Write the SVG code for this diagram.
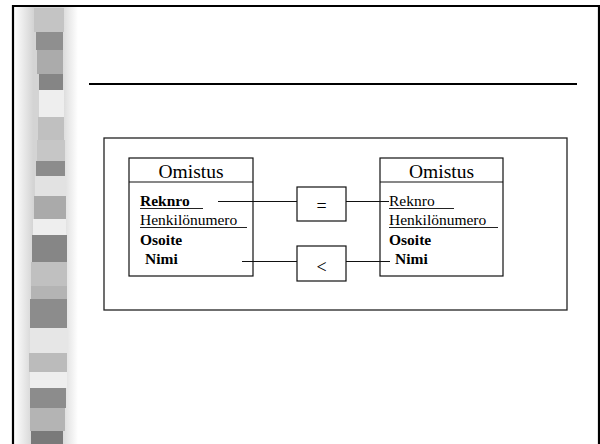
<svg xmlns="http://www.w3.org/2000/svg" width="600" height="444" viewBox="0 0 600 444">
<defs>
<linearGradient id="bg" x1="0" y1="0" x2="1" y2="0">
<stop offset="0" stop-color="#ffffff"/>
<stop offset="0.3" stop-color="#d4d4d4"/>
<stop offset="0.72" stop-color="#d4d4d4"/>
<stop offset="1" stop-color="#ffffff"/>
</linearGradient>
<style>
.t{fill:#000}
.h{font-size:19.5px}
.a{font-size:15.5px}
.b{font-weight:bold}
.box{fill:#fff;stroke:#111;stroke-width:1.2}
.ln{stroke:#111;stroke-width:1.2;fill:none}
.u{stroke:#222;stroke-width:1}
</style>
</defs>
<rect x="0" y="0" width="600" height="444" fill="#fff"/>
<rect x="14" y="7" width="64" height="437" fill="url(#bg)"/>
<g id="stripes">
<rect x="34" y="8" width="30" height="24" fill="#c4c4c4"/>
<rect x="36" y="32" width="27" height="18" fill="#8f8f8f"/>
<rect x="37" y="50" width="26" height="24" fill="#ababab"/>
<rect x="39" y="74" width="24" height="16" fill="#858585"/>
<rect x="39" y="90" width="25" height="27" fill="#eeeeee"/>
<rect x="38" y="117" width="26" height="23" fill="#c0c0c0"/>
<rect x="37" y="140" width="28" height="21" fill="#c6c6c6"/>
<rect x="36" y="161" width="29" height="15" fill="#8c8c8c"/>
<rect x="35" y="176" width="31" height="20" fill="#e2e2e2"/>
<rect x="34" y="196" width="32" height="23" fill="#aaaaaa"/>
<rect x="33" y="219" width="33" height="16" fill="#eeeeee"/>
<rect x="32" y="235" width="35" height="27" fill="#868686"/>
<rect x="31" y="262" width="36" height="24" fill="#c0c0c0"/>
<rect x="31" y="286" width="36" height="13" fill="#b4b4b4"/>
<rect x="30" y="299" width="37" height="29" fill="#8c8c8c"/>
<rect x="30" y="328" width="37" height="25" fill="#e6e6e6"/>
<rect x="29" y="353" width="38" height="19" fill="#bbbbbb"/>
<rect x="30" y="372" width="37" height="16" fill="#eeeeee"/>
<rect x="30" y="388" width="36" height="20" fill="#8c8c8c"/>
<rect x="30" y="408" width="35" height="23" fill="#b4b4b4"/>
<rect x="31" y="431" width="32" height="13" fill="#7a7a7a"/>
</g>
<path d="M13 444 V6 H599 V444" fill="none" stroke="#000" stroke-width="2.2"/>
<line x1="89" y1="84" x2="577" y2="84" stroke="#000" stroke-width="2"/>
<rect x="104" y="138" width="463" height="172" fill="none" stroke="#222" stroke-width="1.3"/>
<g font-family="'Liberation Serif', 'Times New Roman', 'DejaVu Serif', serif">
<g id="eq">
<rect class="box" x="297" y="187" width="49" height="34"/>
<text class="t" x="321.5" y="212" font-size="18" text-anchor="middle">=</text>
</g>
<g id="lt">
<rect class="box" x="297" y="246" width="49" height="35"/>
<text class="t" x="321.5" y="273" font-size="18" text-anchor="middle">&lt;</text>
</g>
<g id="left-table">
<rect class="box" x="129" y="158" width="124" height="118"/>
<line class="ln" x1="129" y1="182" x2="253" y2="182"/>
<text class="t h" x="191" y="177.5" text-anchor="middle">Omistus</text>
<text class="t a b" x="140" y="206">Reknro</text>
<line class="u" x1="140" y1="208.5" x2="203" y2="208.5"/>
<text class="t a" x="140" y="225">Henkilönumero</text>
<line class="u" x1="140" y1="227.5" x2="247" y2="227.5"/>
<text class="t a b" x="140" y="245">Osoite</text>
<text class="t a b" x="145" y="264">Nimi</text>
</g>
<g id="right-table">
<rect class="box" x="380" y="158" width="123" height="118"/>
<line class="ln" x1="380" y1="182" x2="503" y2="182"/>
<text class="t h" x="441.5" y="177.5" text-anchor="middle">Omistus</text>
<text class="t a" x="389" y="206">Reknro</text>
<line class="u" x1="389" y1="208.5" x2="454" y2="208.5"/>
<text class="t a" x="389" y="225">Henkilönumero</text>
<line class="u" x1="389" y1="227.5" x2="498" y2="227.5"/>
<text class="t a b" x="389" y="245">Osoite</text>
<text class="t a b" x="395" y="264">Nimi</text>
</g>
</g>
<g id="connectors">
<line class="ln" x1="218" y1="201.5" x2="297" y2="201.5"/>
<line class="ln" x1="346" y1="201.5" x2="389" y2="201.5"/>
<line class="ln" x1="242" y1="261.5" x2="297" y2="261.5"/>
<line class="ln" x1="346" y1="261.5" x2="390" y2="261.5"/>
</g>
</svg>
